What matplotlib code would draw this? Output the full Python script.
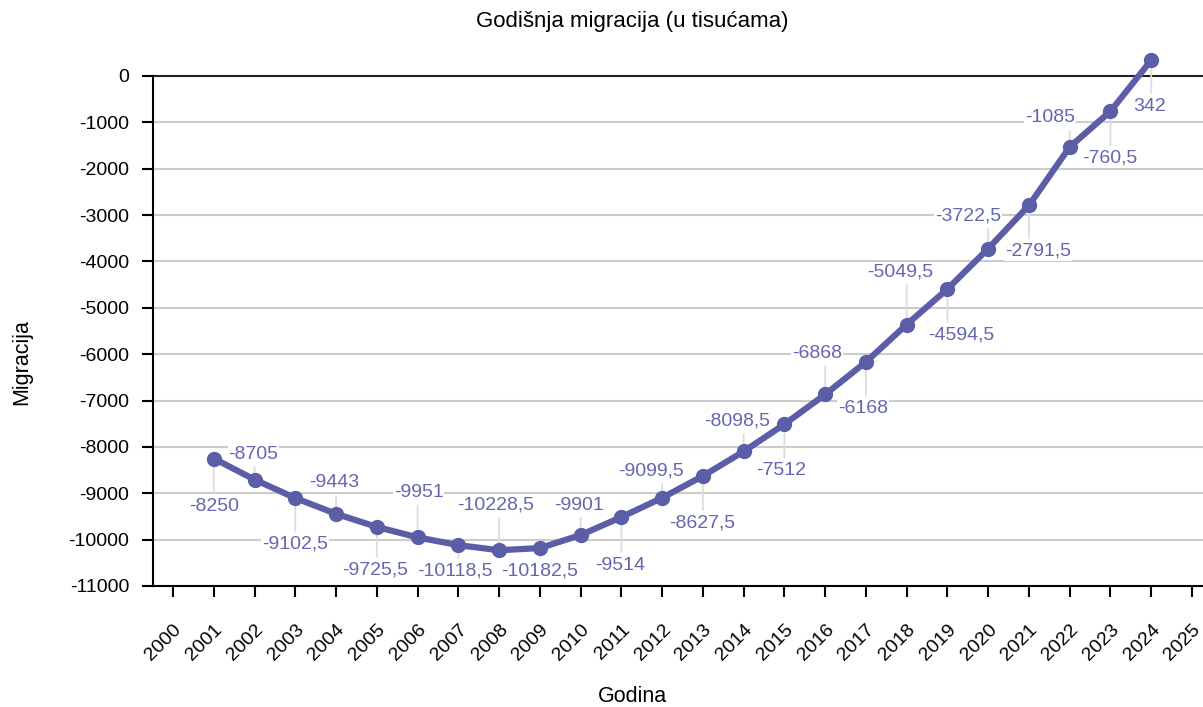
import numpy as np
from matplotlib import pyplot as plt

# Data
years = [2001, 2002, 2003, 2004, 2005, 2006, 2007, 2008, 2009, 2010, 2011, 2012,
         2013, 2014, 2015, 2016, 2017, 2018, 2019, 2020, 2021, 2022, 2023, 2024]
migration = [-8250, -8705, -9102.5, -9443, -9725.5, -9951, -10118.5, -10228.5,
             -10182.5, -9901, -9514, -9099.5, -8627.5, -8098.5, -7512, -6868,
             -6168, -5360, -4594.5, -3722.5, -2791.5, -1530, -760.5, 342]
point_labels = ['-8250', '-8705', '-9102,5', '-9443', '-9725,5', '-9951', '-10118,5',
                '-10228,5', '-10182,5', '-9901', '-9514', '-9099,5', '-8627,5',
                '-8098,5', '-7512', '-6868', '-6168', '-5049,5', '-4594,5',
                '-3722,5', '-2791,5', '-1085', '-760,5', '342']
xticks = list(range(2000, 2026))
yticks = list(range(-11000, 1, 1000))

# label placement (pixel offsets from each point)
offsets = [(0, -48), (-1, 25), (0, -46), (-2, 31), (-2, -43), (1, 45), (-3, -26),
           (-3, 45), (0, -23), (-2, 30), (-1, -48), (-11, 27), (-1, -47), (-7, 30),
           (-3, -46), (-8, 41), (-3, -47), (-6, 53), (14, -46), (-20, 33), (9, -46),
           (-20, 29), (-1, -47), (-2, -46)]

_config = {
    'line': '#5b5ea6',
    'text': '#6466b0',
    'grid': '#cccccc',
    'fs': 14,
}

plt.rcParams['font.family'] = ['Liberation Sans', 'DejaVu Sans']

fig = plt.figure(figsize=(12.03, 7.07), dpi=100)
ax = fig.add_axes([152.7 / 1203, 1 - 586 / 707, 1 - 152.7 / 1203, (586 - 76) / 707])

ax.set_xlim(1999.502, 2025.27)
ax.set_ylim(-11000, 0)
ax.set_xticks(xticks)
ax.set_xticklabels([str(x) for x in xticks], rotation=45, ha='right',
                   rotation_mode='anchor', fontsize=_config['fs'])
ax.set_yticks(yticks)
ax.set_yticklabels([str(y) for y in yticks], fontsize=_config['fs'])
ax.tick_params(axis='both', length=8, width=1.5, color='black', pad=9)
ax.tick_params(axis='x', pad=17)

for s in ['top', 'right']:
    ax.spines[s].set_visible(False)
for s in ['left', 'bottom']:
    ax.spines[s].set_linewidth(1.5)

for y in yticks[1:-1]:
    ax.axhline(y, color=_config['grid'], lw=1.5, zorder=1)
ax.axhline(0, color='#222222', lw=1.5, zorder=1, clip_on=False)

ax.plot(years, migration, color=_config['line'], lw=4.5, marker='o', markersize=10,
        solid_joinstyle='round', solid_capstyle='round', zorder=3, clip_on=False)

for x, y, lbl, (dx, dy) in zip(years, migration, point_labels, offsets):
    # vertical leader line from the point towards its label
    lead = dy - np.sign(dy) * 13
    ax.annotate('', xy=(x, y), xytext=(0, lead), textcoords='offset pixels',
                arrowprops=dict(arrowstyle='-', color='#dddddd', lw=1.3,
                                shrinkA=0, shrinkB=0),
                zorder=2, annotation_clip=False)
    ax.annotate(lbl, xy=(x, y), xytext=(dx, dy), textcoords='offset pixels',
                ha='center', va='center', fontsize=_config['fs'], color=_config['text'],
                bbox=dict(boxstyle='square,pad=0.05', fc='white', ec='none'),
                zorder=2.5, annotation_clip=False)

fig.text(632 / 1203, 1 - 22 / 707, 'Godišnja migracija (u tisućama)',
         ha='center', va='center', fontsize=16)
fig.text(632 / 1203, 1 - 697 / 707, 'Godina', ha='center', va='center', fontsize=15.5)
fig.text(22 / 1203, 1 - 362 / 707, 'Migracija', ha='center', va='center',
         rotation=90, fontsize=15.5)

fig.savefig('out.png', dpi=100)
